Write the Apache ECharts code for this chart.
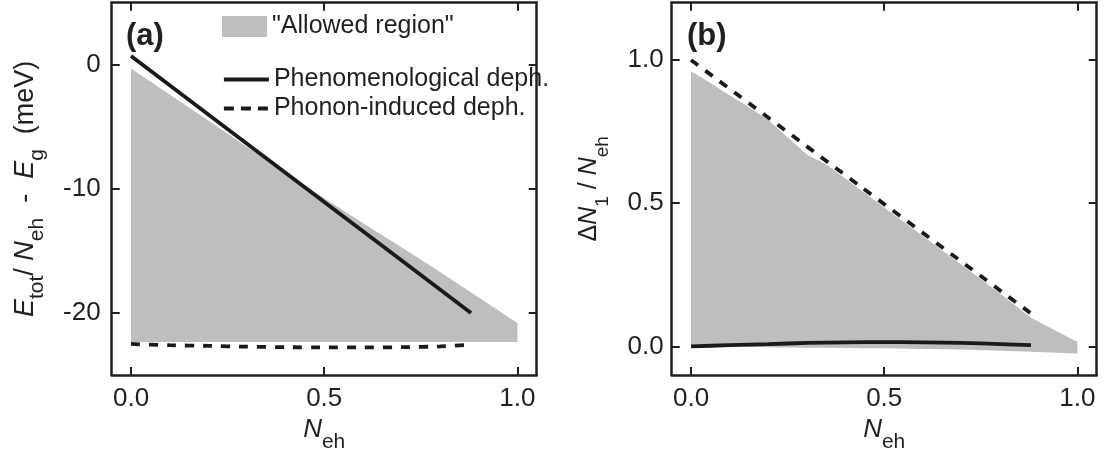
<!DOCTYPE html>
<html>
<head>
<meta charset="utf-8">
<script src="https://cdn.jsdelivr.net/npm/echarts@6/dist/echarts.min.js"></script>
<style>
  html, body { margin: 0; padding: 0; background: #ffffff; }
  #chart { width: 1106px; height: 464px; }
</style>
</head>
<body>
<div id="chart"></div>
<script>
// Tick positions shared by both panels
const xTicks = [0, 0.5, 1.0];
const yTicksA = [-20, -10, 0];
const yTicksB = [0, 0.5, 1.0];

// Panel (a): energy per pair
const allowedA_x      = [0, 0.05, 0.1, 0.2, 0.3, 0.4, 0.5, 0.6, 0.7, 0.8, 0.9, 1.0];
const allowedA_top    = [-0.3, -1.35, -2.4, -4.5, -6.6, -8.7, -10.75, -12.75, -14.7, -16.7, -18.75, -20.8];
const allowedA_bottom = [-22.35, -22.35, -22.35, -22.35, -22.35, -22.35, -22.35, -22.35, -22.35, -22.35, -22.35, -22.35];

const phenoA_x = [0, 0.44, 0.88];
const phenoA_y = [0.7, -9.65, -20.0];

const phononA_x = [0, 0.1, 0.2, 0.3, 0.4, 0.5, 0.6, 0.7, 0.8, 0.88];
const phononA_y = [-22.5, -22.6, -22.65, -22.72, -22.76, -22.78, -22.78, -22.76, -22.7, -22.55];

// Panel (b): normalized change of N1
const allowedB_x      = [0, 0.02, 0.05, 0.09, 0.15, 0.2, 0.25, 0.3, 0.35, 0.4, 0.5, 0.6, 0.7, 0.8, 0.88, 1.0];
const allowedB_top    = [0.96, 0.945, 0.92, 0.885, 0.835, 0.79, 0.73, 0.67, 0.635, 0.585, 0.485, 0.385, 0.285, 0.185, 0.1, 0.015];
const allowedB_bottom = [0.0, 0.0, 0.0, 0.0, -0.002, -0.003, -0.004, -0.005, -0.005, -0.006, -0.007, -0.009, -0.011, -0.015, -0.019, -0.025];

const phenoB_x = [0, 0.1, 0.2, 0.3, 0.4, 0.5, 0.6, 0.7, 0.8, 0.88];
const phenoB_y = [0.0, 0.004, 0.008, 0.012, 0.014, 0.015, 0.014, 0.012, 0.008, 0.004];

const phononB_x = [0, 0.44, 0.88];
const phononB_y = [1.0, 0.557, 0.115];

const INK = '#231f20';
const LINE = '#1a1a1a';
const GRAY = '#bcbec0';
const FONT = '"Liberation Sans", Arial, Helvetica, sans-serif';
const DASH = [9, 9];

function pairs(xs, ys) { return xs.map((x, i) => [x, ys[i]]); }

// Closed band between an upper and lower boundary, drawn as a polygon
function bandSeries(name, xi, yi, xs, top, bottom) {
  const data = xs.map((x, i) => [x, top[i], bottom[i]]);
  return {
    name: name,
    type: 'custom',
    xAxisIndex: xi,
    yAxisIndex: yi,
    data: data,
    silent: true,
    z: 1,
    itemStyle: { color: GRAY },
    encode: { x: 0, y: [1, 2] },
    renderItem: function (params, api) {
      if (params.dataIndex !== 0) return null;
      const upper = xs.map((x, i) => api.coord([x, top[i]]));
      const lower = xs.map((x, i) => api.coord([x, bottom[i]])).reverse();
      return {
        type: 'polygon',
        shape: { points: upper.concat(lower) },
        style: { fill: GRAY, stroke: null }
      };
    }
  };
}

function lineSeries(name, xi, yi, xs, ys, dashed) {
  return {
    name: name,
    type: 'line',
    xAxisIndex: xi,
    yAxisIndex: yi,
    data: pairs(xs, ys),
    symbol: 'none',
    smooth: 0.2,
    silent: true,
    z: 3,
    lineStyle: {
      color: LINE,
      width: 3.8,
      type: dashed ? DASH : 'solid',
      cap: 'butt'
    },
    itemStyle: { color: LINE }
  };
}

const tickFmt1 = v => v.toFixed(1);

const frameLine = { show: true, onZero: false, lineStyle: { color: INK, width: 2.5 } };

// Rich-text styles for axis titles with subscripts
function nameRich(main, sub) {
  return {
    i: { fontStyle: 'italic', fontSize: main, fontFamily: FONT, color: INK, lineHeight: 36, verticalAlign: 'top' },
    r: { fontSize: main, fontFamily: FONT, color: INK, lineHeight: 36, verticalAlign: 'top' },
    s: { fontSize: sub, fontFamily: FONT, color: INK, lineHeight: 2, verticalAlign: 'bottom' }
  };
}

function xAxes(gridIndex) {
  const common = {
    type: 'value', gridIndex: gridIndex, min: -0.05, max: 1.05,
    splitLine: { show: false },
    axisLine: frameLine,
    axisTick: { show: true, inside: true, length: 8, customValues: xTicks, lineStyle: { color: INK, width: 2 } }
  };
  return [
    Object.assign({}, common, {
      position: 'bottom',
      axisLabel: { show: true, customValues: xTicks, formatter: tickFmt1, color: INK, fontSize: 26, fontFamily: FONT, margin: 11 },
      name: '{i|N}{s|eh}',
      nameLocation: 'middle',
      nameGap: 42,
      nameTextStyle: { rich: nameRich(26, 21) }
    }),
    Object.assign({}, common, {
      position: 'top',
      axisLabel: { show: false }
    })
  ];
}

function yAxes(gridIndex, min, max, ticks, fmt, labelMargin, nameText, nameGap, mainSize, subSize) {
  const common = {
    type: 'value', gridIndex: gridIndex, min: min, max: max,
    splitLine: { show: false },
    axisLine: frameLine,
    axisTick: { show: true, inside: true, length: 8, customValues: ticks, lineStyle: { color: INK, width: 2 } }
  };
  return [
    Object.assign({}, common, {
      position: 'left',
      axisLabel: { show: true, customValues: ticks, formatter: fmt, color: INK, fontSize: 26, fontFamily: FONT, margin: labelMargin },
      name: nameText,
      nameLocation: 'middle',
      nameGap: nameGap,
      nameTextStyle: { rich: nameRich(mainSize, subSize) }
    }),
    Object.assign({}, common, {
      position: 'right',
      axisLabel: { show: false }
    })
  ];
}

const legendText = { color: INK, fontSize: 25, fontFamily: FONT };
const hiddenSymbol = { opacity: 0 };

const option = {
  animation: false,
  backgroundColor: '#ffffff',
  grid: [
    { left: 111.7, right: 569.3, top: 2.7, bottom: 89 },
    { left: 671.7, right: 9.3, top: 2.7, bottom: 89 }
  ],
  xAxis: xAxes(0).concat(xAxes(1)),
  yAxis: yAxes(0, -25, 5, yTicksA, v => String(v), 11,
               '{i|E}{s|tot}{r|/ }{i|N}{s|eh}{r|  -  }{i|E}{s|g}{r|  (meV)}', 64, 27, 21)
    .concat(yAxes(1, -0.1, 1.2, yTicksB, tickFmt1, 8,
               '{r|\u0394}{i|N}{s|1}{r| / }{i|N}{s|eh}', 59, 25, 19)),
  legend: [
    {
      data: [{ name: '"Allowed region"', icon: 'rect', itemStyle: { color: GRAY } }],
      left: 222, top: 14, padding: 0,
      itemWidth: 45, itemHeight: 21,
      textStyle: legendText, selectedMode: false
    },
    {
      data: ['Phenomenological deph.'],
      left: 222, top: 67, padding: 0,
      itemWidth: 45, itemHeight: 24,
      itemStyle: hiddenSymbol,
      lineStyle: { width: 3.8 },
      textStyle: legendText, selectedMode: false
    },
    {
      data: ['Phonon-induced deph.'],
      left: 222, top: 96, padding: 0,
      itemWidth: 45, itemHeight: 24,
      itemStyle: hiddenSymbol,
      lineStyle: { width: 3.8, type: [10, 7] },
      textStyle: legendText, selectedMode: false
    }
  ],
  graphic: [
    { type: 'text', left: 126, top: 21, style: { text: '(a)', font: 'bold 31px ' + FONT, fill: INK } },
    { type: 'text', left: 687, top: 21, style: { text: '(b)', font: 'bold 31px ' + FONT, fill: INK } }
  ],
  series: [
    bandSeries('"Allowed region"', 0, 0, allowedA_x, allowedA_top, allowedA_bottom),
    lineSeries('Phenomenological deph.', 0, 0, phenoA_x, phenoA_y, false),
    lineSeries('Phonon-induced deph.', 0, 0, phononA_x, phononA_y, true),
    bandSeries('"Allowed region"', 2, 2, allowedB_x, allowedB_top, allowedB_bottom),
    lineSeries('Phenomenological deph.', 2, 2, phenoB_x, phenoB_y, false),
    lineSeries('Phonon-induced deph.', 2, 2, phononB_x, phononB_y, true)
  ]
};

const chart = echarts.init(document.getElementById('chart'), null, { renderer: 'canvas' });
chart.setOption(option);
</script>
</body>
</html>
